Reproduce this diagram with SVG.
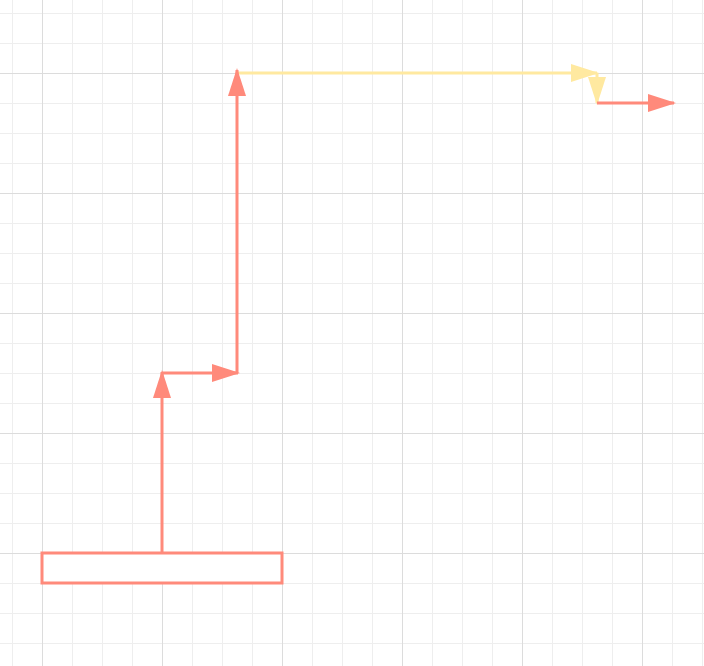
<svg xmlns="http://www.w3.org/2000/svg" width="704" height="666" viewBox="0 0 704 666">
<style>
.minor{stroke:#eeeeee;stroke-width:1}
.major{stroke:#dcdcdc;stroke-width:1}
.red{stroke:#ff8a7b;stroke-width:3;fill:none}
.yel{stroke:#ffe9a0;stroke-width:3;fill:none}
</style>
<defs>
<pattern id="gm" x="12" y="13" width="30" height="30" patternUnits="userSpaceOnUse">
<path d="M0.5,0 V30 M0,0.5 H30" class="minor"/>
</pattern>
<pattern id="gM" x="42" y="73" width="120" height="120" patternUnits="userSpaceOnUse">
<path d="M0.5,0 V120 M0,0.5 H120" class="major"/>
</pattern>
<marker id="ar" viewBox="0 0 28 18" refX="26" refY="9" markerWidth="28" markerHeight="18" orient="auto" markerUnits="userSpaceOnUse">
<path d="M0,0 L28,9 L0,18 z" fill="#ff8a7b"/>
</marker>
<marker id="ay" viewBox="0 0 28 18" refX="26" refY="9" markerWidth="28" markerHeight="18" orient="auto" markerUnits="userSpaceOnUse">
<path d="M0,0 L28,9 L0,18 z" fill="#ffe9a0"/>
</marker>
</defs>
<rect width="704" height="666" fill="#ffffff"/>
<rect width="704" height="666" fill="url(#gm)"/>
<rect width="704" height="666" fill="url(#gM)"/>
<g id="connectors">
<path class="yel" d="M237,73 L597,73" marker-end="url(#ay)"/>
<path class="yel" d="M597,73 L597,103" marker-end="url(#ay)"/>
<path class="red" d="M162,553 L162,372" marker-end="url(#ar)"/>
<path class="red" d="M162,373 L238,373" marker-end="url(#ar)"/>
<path class="red" d="M237,373 L237,70" marker-end="url(#ar)"/>
<path class="red" d="M597,103 L674,103" marker-end="url(#ar)"/>
</g>
<g id="node1">
<rect x="42" y="553" width="240" height="30" fill="#ffffff" stroke="#ff8a7b" stroke-width="3"/>
</g>
</svg>
